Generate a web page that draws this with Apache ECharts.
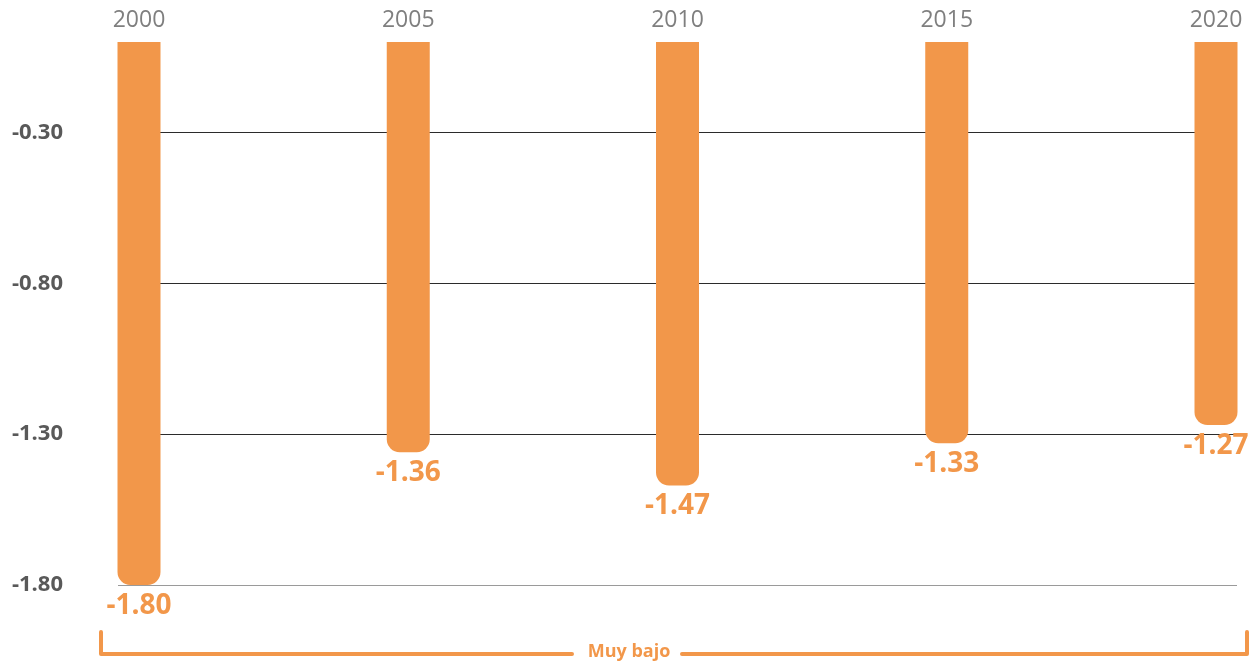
<!DOCTYPE html>
<html>
<head>
<meta charset="utf-8">
<script src="https://cdn.jsdelivr.net/npm/echarts@6/dist/echarts.min.js"></script>
<style>html,body{margin:0;padding:0;background:#fff}#c{width:1257px;height:665px}</style>
</head>
<body>
<div id="c"></div>
<script>
var years = ['2000', '2005', '2010', '2015', '2020'];
var values = [-1.80, -1.36, -1.47, -1.33, -1.27];
var yTicks = [-1.80, -1.30, -0.80, -0.30];
var bandLabel = 'Muy bajo';

var ORANGE = '#F2974A';
var chart = echarts.init(document.getElementById('c'));
var seriesData = values.map(function (v, i) { return [i, v]; });

chart.setOption({
  animation: false,
  grid: { left: 118, right: 20, top: 42, bottom: 80 },
  xAxis: {
    type: 'value',
    position: 'top',
    min: -0.078,
    max: 4.078,
    axisLine: { show: false },
    axisTick: { show: false },
    splitLine: { show: false },
    axisLabel: {
      customValues: years.map(function (y, i) { return i; }),
      formatter: function (v) { return years[Math.round(v)]; },
      color: '#7f7f7f',
      fontFamily: 'Open Sans',
      fontSize: 23,
      margin: 10
    }
  },
  yAxis: {
    type: 'value',
    min: -1.8,
    max: 0,
    interval: 0.5,
    axisLine: { show: false },
    axisTick: { show: false },
    axisLabel: {
      showMaxLabel: false,
      formatter: function (v) { return Math.abs(v) < 1e-9 ? '' : v.toFixed(2); },
      color: '#595959',
      fontFamily: 'Open Sans',
      fontWeight: 'bold',
      fontSize: 22,
      margin: 55
    },
    splitLine: {
      show: true,
      lineStyle: { color: ['#9a9a9a', '#2b2b2b', '#2b2b2b', '#2b2b2b', 'rgba(0,0,0,0)'], width: 1.2 }
    }
  },
  series: [{
    type: 'bar',
    data: seriesData,
    barWidth: 43,
    itemStyle: { color: ORANGE, borderRadius: [0, 0, 13, 13] },
    label: {
      show: true,
      position: 'bottom',
      distance: 7,
      formatter: function (p) { return p.value[1].toFixed(2); },
      color: ORANGE,
      fontFamily: 'Open Sans',
      fontWeight: 'bold',
      fontSize: 28
    }
  }],
  graphic: [
    {
      type: 'polyline',
      shape: { points: [[101, 632], [101, 654], [572, 654]] },
      style: { stroke: ORANGE, lineWidth: 4, fill: null, lineCap: 'round', lineJoin: 'round' }
    },
    {
      type: 'polyline',
      shape: { points: [[682, 654], [1247, 654], [1247, 632]] },
      style: { stroke: ORANGE, lineWidth: 4, fill: null, lineCap: 'round', lineJoin: 'round' }
    },
    {
      type: 'text',
      x: 629,
      y: 652,
      style: {
        text: bandLabel,
        fill: ORANGE,
        font: 'bold 18px "Open Sans"',
        textAlign: 'center',
        textVerticalAlign: 'middle'
      }
    }
  ]
});
</script>
</body>
</html>
